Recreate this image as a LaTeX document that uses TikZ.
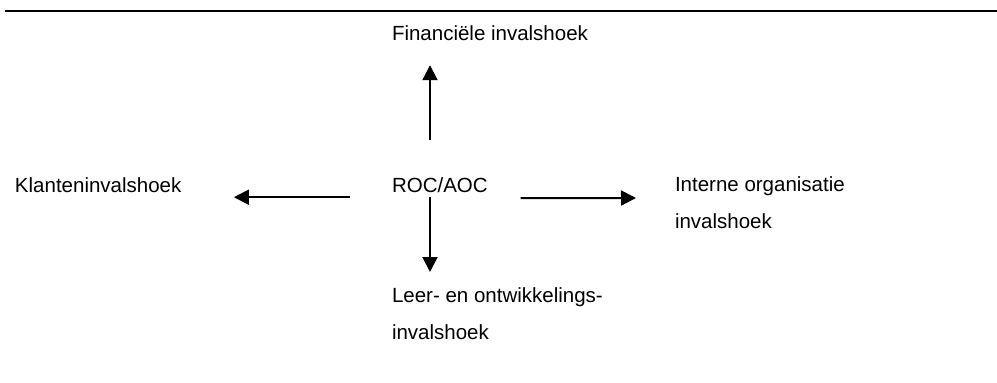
\documentclass[tikz,border=0pt]{standalone}
\usepackage{fontspec}
\setmainfont{Liberation Sans}
\usepackage{tikz}
\usetikzlibrary{arrows.meta}

\begin{document}
\begin{tikzpicture}[
    x=1pt, y=1pt,
    label/.style={inner sep=0pt, outer sep=0pt,
                  font=\fontsize{20.5}{36.5}\selectfont, align=left},
    arr/.style={-{Triangle[length=15pt, width=15pt]}, line width=2pt},
    rule/.style={line width=2.2pt},
]
    \useasboundingbox (0,0) rectangle (997,-383);
    \draw[rule] (5,-11) -- (997,-11);

    \node[label, anchor=base west] (roc) at (392,-192) {ROC/AOC};
    \node[label, anchor=base west] (fin) at (392,-40) {Financiële invalshoek};
    \node[label, anchor=base west] (kla) at (15,-192) {Klanteninvalshoek};
    \node[label, anchor=north west] (int) at (675,-177) {Interne organisatie\\invalshoek};
    \node[label, anchor=north west] (leo) at (392,-288) {Leer- en ontwikkelings-\\invalshoek};

    \draw[arr] ([shift={(38,37)}]roc.north west) -- ([shift={(38,-25)}]fin.south west);
    \draw[arr] ([shift={(38,-5)}]roc.south west) -- ([shift={(38,16)}]leo.north west);
    \draw[arr] ([shift={(-42,-5)}]roc.south west) -- ([shift={(52.5,-5)}]kla.south east);
    \draw[arr] ([shift={(33,-6)}]roc.south east) -- ([shift={(-39,-21)}]int.north west);
\end{tikzpicture}
\end{document}
